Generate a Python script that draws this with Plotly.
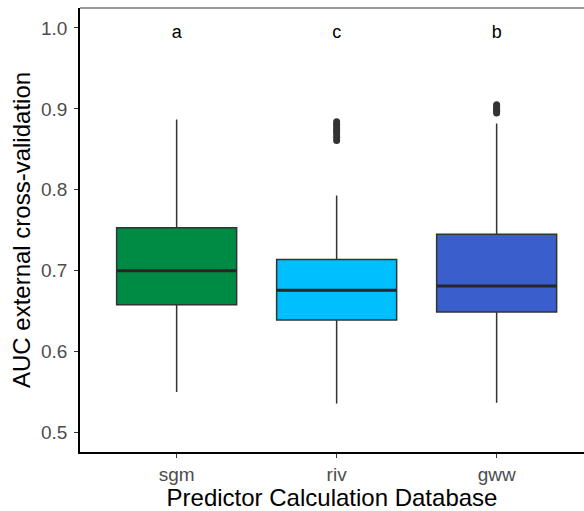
import plotly.graph_objects as go

categories = ["sgm", "riv", "gww"]
q1 = [0.658, 0.639, 0.649]
median = [0.700, 0.676, 0.681]
q3 = [0.753, 0.714, 0.745]
lower_whisker = [0.550, 0.536, 0.537]
upper_whisker = [0.887, 0.793, 0.882]
fill_colors = ["#008B45", "#00BFFF", "#3A5FCD"]
letters = ["a", "c", "b"]
letter_y = 0.993
outlier_cat = ["riv"] * 8 + ["gww"] * 6
outlier_val = [0.861, 0.865, 0.869, 0.872, 0.875, 0.878, 0.881, 0.884,
               0.895, 0.897, 0.899, 0.901, 0.903, 0.905]

BOX_W = 0.75
pos = {c: i for i, c in enumerate(categories)}

fig = go.Figure()
for i, c in enumerate(categories):
    fig.add_trace(go.Box(
        x=[pos[c]], q1=[q1[i]], median=[median[i]], q3=[q3[i]],
        lowerfence=[lower_whisker[i]], upperfence=[upper_whisker[i]],
        fillcolor=fill_colors[i], line=dict(color="#333333", width=1.5),
        width=BOX_W, whiskerwidth=0, boxpoints=False, showlegend=False,
        hoverinfo="skip",
    ))
    # thicker median line like ggplot's fatten
    fig.add_trace(go.Scatter(
        x=[pos[c] - BOX_W / 2, pos[c] + BOX_W / 2], y=[median[i], median[i]],
        mode="lines", line=dict(color="#262626", width=3),
        showlegend=False, hoverinfo="skip",
    ))
fig.add_trace(go.Scatter(
    x=[pos[c] for c in outlier_cat], y=outlier_val, mode="markers",
    marker=dict(color="#333333", size=7), showlegend=False, hoverinfo="skip",
))
fig.add_trace(go.Scatter(
    x=[pos[c] for c in categories], y=[letter_y] * 3, mode="text", text=letters,
    textfont=dict(family="Liberation Sans, Arial", size=18, color="black"),
    showlegend=False, hoverinfo="skip",
))

fig.update_layout(
    width=584, height=511,
    margin=dict(l=80, r=0, t=8, b=59),
    paper_bgcolor="white", plot_bgcolor="white",
    font=dict(family="Liberation Sans, Arial", color="#4D4D4D"),
    xaxis=dict(
        tickvals=[pos[c] for c in categories], ticktext=categories,
        range=[-0.604, 2.546], showgrid=False, zeroline=False,
        showline=True, linecolor="black", linewidth=1.5,
        ticks="outside", ticklen=4, tickcolor="#333333", tickwidth=1.2,
        tickfont=dict(size=19, color="#4D4D4D"),
        title=dict(text="Predictor Calculation Database",
                   font=dict(size=24, color="black"), standoff=4),
    ),
    yaxis=dict(
        range=[0.476, 1.0247], tickvals=[0.5, 0.6, 0.7, 0.8, 0.9, 1.0],
        ticktext=["0.5", "0.6", "0.7", "0.8", "0.9", "1.0"],
        showgrid=False, zeroline=False,
        showline=True, linecolor="black", linewidth=1.5,
        ticks="outside", ticklen=4, tickcolor="#333333", tickwidth=1.2,
        ticklabelstandoff=3,
        tickfont=dict(size=19, color="#4D4D4D"),
        title=dict(text="AUC external cross-validation",
                   font=dict(size=24, color="black"), standoff=4),
    ),
    shapes=[dict(type="line", xref="paper", yref="paper", x0=0, x1=1,
                 y0=1, y1=1, line=dict(color="#999999", width=2))],
)

fig.write_html("out.html")
